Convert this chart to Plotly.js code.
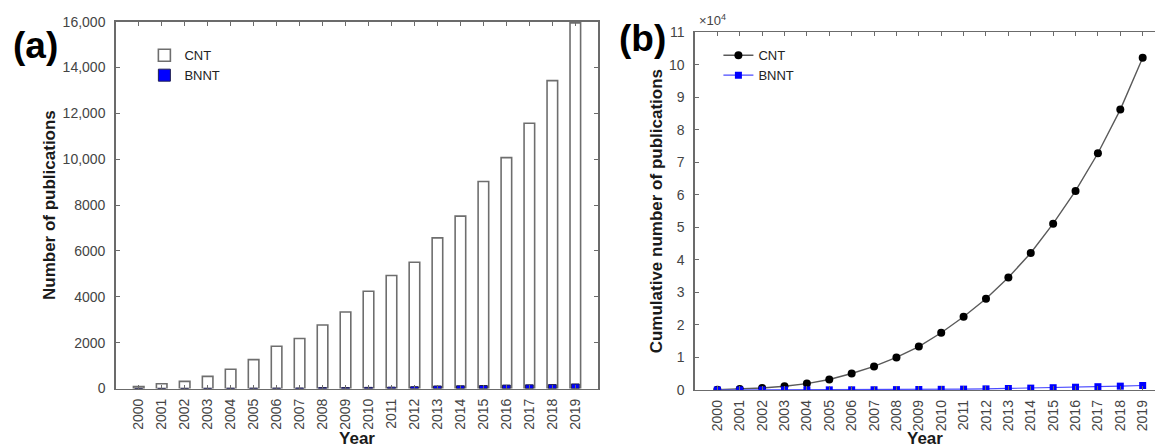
<!DOCTYPE html>
<html><head><meta charset="utf-8">
<script src="https://cdn.plot.ly/plotly-3.0.1.min.js"></script>
<style>html,body{margin:0;padding:0;background:#fff}#chart{width:1155px;height:448px}</style>
</head><body><div id="chart"></div>
<script>
const years = [2000,2001,2002,2003,2004,2005,2006,2007,2008,2009,2010,2011,2012,2013,2014,2015,2016,2017,2018,2019];
const yearLabels = ['2000','2001','2002','2003','2004','2005','2006','2007','2008','2009','2010','2011','2012','2013','2014','2015','2016','2017','2018','2019'];
const cntAnnual = [80,210,310,530,840,1260,1840,2180,2770,3340,4240,4930,5510,6570,7520,9030,10070,11570,13430,15950];
const bnntAnnual = [2,3,5,6,10,12,15,20,40,40,50,60,80,110,120,130,150,160,170,200];
const cntCumulative = [80,290,600,1130,1970,3230,5070,7250,10020,13360,17600,22530,28040,34610,42130,51160,61230,72800,86230,102180];
const bnntCumulative = [2,5,10,16,26,38,53,73,113,153,203,263,343,453,573,703,853,1013,1183,1383];
const leftTickVals = [0,2000,4000,6000,8000,10000,12000,14000,16000];
const leftTickText = ['0','2000','4000','6000','8000','10,000','12,000','14,000','16,000'];
const rightTickVals = [0,10000,20000,30000,40000,50000,60000,70000,80000,90000,100000,110000];
const rightTickText = ['0','1','2','3','4','5','6','7','8','9','10','11'];

const FONT = 'Arial, "Liberation Sans", sans-serif';
const AX = '#6b6b6b';
const TXT = '#444444';

const traces = [
  {type:'bar', name:'CNT', x:years, y:cntAnnual, width:0.46, xaxis:'x', yaxis:'y', legend:'legend',
   marker:{color:'#ffffff', line:{color:'#6e6e6e', width:1.6}}},
  {type:'bar', name:'BNNT', x:years, y:bnntAnnual, width:0.34, xaxis:'x', yaxis:'y', legend:'legend',
   marker:{color:'#0000ff', line:{color:'#202050', width:1}}},
  {type:'scatter', mode:'lines+markers', name:'CNT', x:years, y:cntCumulative, xaxis:'x2', yaxis:'y2', legend:'legend2',
   line:{color:'#5a5a5a', width:1.4}, marker:{symbol:'circle', size:8, color:'#000000'}},
  {type:'scatter', mode:'lines+markers', name:'BNNT', x:years, y:bnntCumulative, xaxis:'x2', yaxis:'y2', legend:'legend2',
   line:{color:'#4a4aff', width:1.2}, marker:{symbol:'square', size:7, color:'#0000ff'}}
];

function xAxis(domain, range, anchor){
  return {domain:domain, range:range, anchor:anchor, tickmode:'array', tickvals:years, ticktext:yearLabels,
    tickangle:-90, ticks:'inside', ticklen:4, tickcolor:AX, tickwidth:1, showline:true, linecolor:AX, linewidth:1.5,
    mirror:'ticks', showgrid:false, zeroline:false, tickfont:{family:FONT, size:14, color:TXT}, ticklabelstandoff:3,
    title:{text:'<b>Year</b>', font:{family:FONT, size:17, color:'#1a1a1a'}, standoff:6}};
}

const layout = {
  width:1155, height:448, margin:{l:0,r:0,t:0,b:0}, paper_bgcolor:'#ffffff', plot_bgcolor:'#ffffff',
  font:{family:FONT, color:TXT}, barmode:'overlay', showlegend:true,
  xaxis: xAxis([0.1002,0.518],[1999,2020],'y'),
  yaxis: {domain:[0.1328,0.9516], range:[0,16000], anchor:'x', tickmode:'array', tickvals:leftTickVals, ticktext:leftTickText,
    ticks:'inside', ticklen:4, tickcolor:AX, showline:true, linecolor:AX, linewidth:1.5, mirror:'ticks',
    showgrid:false, zeroline:false, tickfont:{family:FONT, size:14, color:TXT}, ticklabelstandoff:6,
    title:{text:'<b>Number of publications</b>', font:{family:FONT, size:17, color:'#1a1a1a'}, standoff:2}},
  xaxis2: xAxis([0.6017,1],[1999,2019.55],'y2'),
  yaxis2: {domain:[0.1295,0.9279], range:[0,110000], anchor:'x2', tickmode:'array', tickvals:rightTickVals, ticktext:rightTickText,
    ticks:'inside', ticklen:4, tickcolor:AX, showline:true, linecolor:AX, linewidth:1.5, mirror:false,
    showgrid:false, zeroline:false, tickfont:{family:FONT, size:14, color:TXT}, ticklabelstandoff:6,
    title:{text:'<b>Cumulative number of publications</b>', font:{family:FONT, size:17, color:'#1a1a1a'}, standoff:2}},
  legend: {x:0.125, y:0.91, xanchor:'left', yanchor:'top', bgcolor:'rgba(0,0,0,0)', borderwidth:0,
    font:{family:FONT, size:13, color:'#222'}, tracegroupgap:0},
  legend2: {x:0.622, y:0.91, xanchor:'left', yanchor:'top', bgcolor:'rgba(0,0,0,0)', borderwidth:0,
    font:{family:FONT, size:13, color:'#222'}, tracegroupgap:0},
  annotations: [
    {text:'<b>(a)</b>', xref:'paper', yref:'paper', x:35/1155, y:1-46/448, xanchor:'center', yanchor:'middle', showarrow:false,
     font:{family:FONT, size:37, color:'#000'}},
    {text:'<b>(b)</b>', xref:'paper', yref:'paper', x:642/1155, y:1-38/448, xanchor:'center', yanchor:'middle', showarrow:false,
     font:{family:FONT, size:37, color:'#000'}},
    {text:'×10<sup>4</sup>', xref:'paper', yref:'paper', x:697/1155, y:1-20/448, xanchor:'left', yanchor:'middle', showarrow:false,
     font:{family:FONT, size:13, color:TXT}}
  ]
};

Plotly.newPlot('chart', traces, layout, {displayModeBar:false, staticPlot:true});
</script>
</body></html>
